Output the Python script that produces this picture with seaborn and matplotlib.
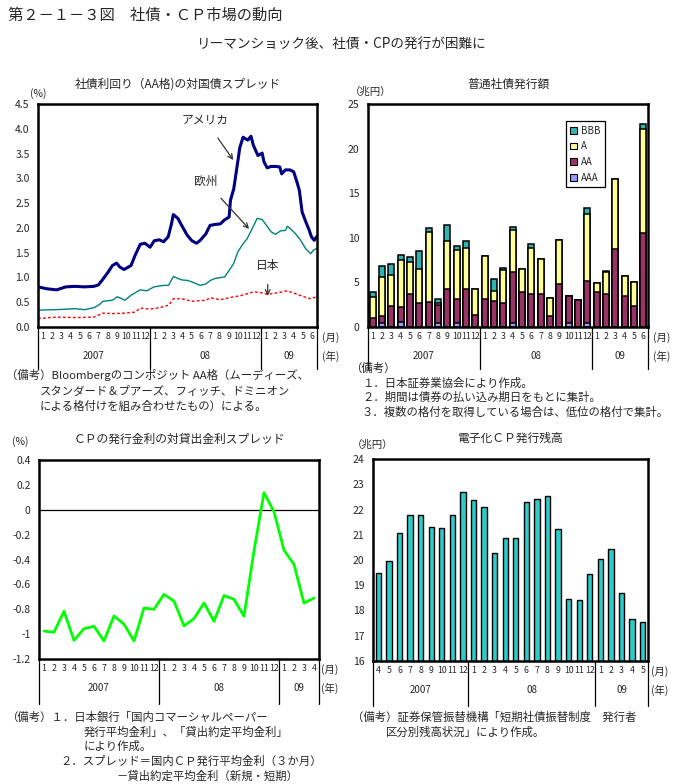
import matplotlib
matplotlib.use("Agg")
import matplotlib.pyplot as plt
import matplotlib.transforms as mtrans
from matplotlib.patches import Patch
import numpy as np
import pandas as pd
import seaborn as sns

# ---------------- data ----------------
# Panel 1: corporate bond (AA) spread over government bonds, % (x = months since Jan 2007)
us_t = [0.0, 1.0, 2.0, 3.0, 4.0, 5.0, 6.0, 6.5, 7.0, 7.55, 8.0, 8.45, 8.8, 9.25, 10.0, 10.45,
        11.0, 11.5, 12.05, 12.5, 13.05, 13.5, 14.0, 14.35, 14.55, 15.05, 15.45, 16.05, 16.55,
        17.05, 17.45, 18.05, 18.5, 19.05, 19.6, 20.05, 20.55, 20.7, 21.05, 21.5, 21.7, 22.05,
        22.55, 22.9, 23.15, 23.65, 24.1, 24.3, 24.65, 25.05, 25.55, 26.0, 26.2, 26.6, 27.1,
        27.5, 27.9, 28.1, 28.4, 28.8, 29.15, 29.4, 29.7, 30.0]
us_v = [0.81, 0.77, 0.75, 0.81, 0.82, 0.81, 0.82, 0.85, 0.97, 1.11, 1.24, 1.29, 1.21, 1.16, 1.24, 1.45,
        1.67, 1.69, 1.61, 1.74, 1.76, 1.72, 1.82, 2.08, 2.27, 2.19, 2.05, 1.85, 1.74,
        1.69, 1.75, 1.88, 2.05, 2.07, 2.08, 2.16, 2.22, 2.56, 2.79, 3.36, 3.62, 3.83,
        3.77, 3.85, 3.67, 3.46, 3.51, 3.33, 3.21, 3.24, 3.24, 3.23, 3.09, 3.17, 3.17,
        3.13, 2.89, 2.76, 2.32, 2.12, 1.96, 1.82, 1.75, 1.83]
eu_t = [0.0, 1.98, 3.99, 5.0, 6.01, 6.51, 7.01, 7.99, 8.53, 9.35, 10.0, 11.0, 11.69, 12.48, 13.49,
        14.03, 14.57, 15.04, 15.47, 16.04, 16.55, 17.45, 18.06, 18.53, 19.06, 20.07, 20.54, 21.04,
        21.47, 22.05, 22.48, 23.02, 23.56, 24.1, 24.57, 25.07, 25.54, 26.08, 26.62, 26.8, 27.16,
        27.7, 28.24, 28.78, 29.32, 29.68, 29.96]
eu_v = [0.34, 0.35, 0.37, 0.35, 0.39, 0.44, 0.52, 0.54, 0.61, 0.54, 0.64, 0.75, 0.73, 0.81, 0.84,
        0.84, 1.02, 0.98, 0.95, 0.94, 0.91, 0.84, 0.87, 0.94, 0.98, 1.01, 1.14, 1.28,
        1.51, 1.68, 1.78, 1.98, 2.19, 2.17, 2.05, 1.92, 1.87, 1.94, 1.95, 2.03, 1.98,
        1.88, 1.75, 1.58, 1.48, 1.56, 1.58]
jp_t = [0.0, 1.98, 3.99, 6.01, 7.01, 7.99, 9.35, 10.43, 11.0, 12.05, 13.06, 14.03, 14.57, 15.47,
        16.55, 18.06, 18.53, 19.6, 21.04, 21.76, 22.48, 23.2, 24.1, 24.64, 25.72, 26.8, 27.7,
        28.6, 29.32, 29.96]
jp_v = [0.17, 0.20, 0.19, 0.20, 0.28, 0.27, 0.28, 0.30, 0.38, 0.36, 0.39, 0.44, 0.57, 0.57,
        0.52, 0.54, 0.59, 0.55, 0.61, 0.63, 0.67, 0.71, 0.69, 0.66, 0.69, 0.73, 0.67,
        0.61, 0.57, 0.61]
p1_months = [str(m) for m in range(1, 13)] * 2 + [str(m) for m in range(1, 7)]

# Panel 2: straight bond issuance by rating, trillion yen (2007/1 - 2009/6)
bond_months = [str(m) for m in range(1, 13)] * 2 + [str(m) for m in range(1, 7)]
bond_aaa = [0.0, 0.45, 0.0, 0.55, 0.0, 0.0, 0.0, 0.45, 0.0, 0.45, 0.0, 0.0,
            0.0, 0.0, 0.0, 0.45, 0.0, 0.0, 0.0, 0.0, 0.0, 0.45, 0.0, 0.5,
            0.0, 0.0, 0.0, 0.0, 0.0, 0.0]
bond_aa = [1.0, 0.8, 2.4, 1.65, 3.75, 2.7, 2.85, 2.0, 4.25, 2.65, 4.25, 1.3,
           3.1, 2.9, 2.7, 5.75, 3.95, 3.7, 3.75, 1.25, 4.8, 3.0, 3.05, 4.65,
           3.9, 3.7, 8.8, 3.45, 2.4, 10.5]
bond_a = [2.4, 4.35, 3.4, 5.3, 3.5, 3.8, 7.85, 0.25, 5.35, 5.55, 4.65, 3.0,
          4.9, 1.1, 3.7, 4.7, 2.55, 5.15, 3.85, 2.0, 4.9, 0.0, 0.0, 7.5,
          1.05, 2.45, 7.75, 2.3, 2.65, 11.65]
bond_bbb = [0.5, 1.2, 1.25, 0.55, 0.55, 2.0, 0.35, 0.4, 1.85, 0.45, 0.75, 0.0,
            0.0, 1.4, 0.25, 0.3, 0.0, 0.45, 0.0, 0.0, 0.1, 0.0, 0.0, 0.7,
            0.0, 0.1, 0.0, 0.0, 0.0, 0.65]

# Panel 3: CP issuance rate minus loan rate spread, % (2007/1 - 2009/4)
cp_months = [str(m) for m in range(1, 13)] * 2 + [str(m) for m in range(1, 5)]
cp_spread = [-0.975, -0.985, -0.816, -1.05, -0.956, -0.937, -1.055, -0.854, -0.92, -1.055, -0.79, -0.80,
             -0.68, -0.735, -0.934, -0.875, -0.75, -0.897, -0.69, -0.72, -0.856, -0.33, 0.137, -0.016,
             -0.325, -0.44, -0.75, -0.71]

# Panel 4: electronic CP outstanding, trillion yen (2007/4 - 2009/5)
ecp_months = [str(m) for m in range(4, 13)] + [str(m) for m in range(1, 13)] + [str(m) for m in range(1, 6)]
ecp_vals = [19.49, 19.98, 21.05, 21.77, 21.77, 21.29, 21.25, 21.77, 22.68,
            22.36, 22.08, 20.26, 20.87, 20.89, 22.28, 22.40, 22.52, 21.21, 18.46, 18.43, 19.43,
            20.02, 20.42, 18.71, 17.68, 17.53]

# ---------------- style ----------------
sns.set_theme(style="white")
plt.rcParams['font.family'] = ['Noto Sans CJK JP', 'DejaVu Sans']
plt.rcParams['axes.unicode_minus'] = False

W, H = 684, 784
fig = plt.figure(figsize=(W / 100, H / 100), dpi=100)


def rect(l, t, r, b):
    return [l / W, 1 - b / H, (r - l) / W, (b - t) / H]


def ftext(x, y, s, **kw):
    kw.setdefault('fontsize', 8.2)
    kw.setdefault('va', 'center')
    fig.text(x / W, 1 - y / H, s, **kw)


def frame(ax):
    for sp in ax.spines.values():
        sp.set_visible(True)
        sp.set_color('black')
        sp.set_linewidth(1.8)
    ax.tick_params(axis='y', length=0, labelsize=7.5, pad=6)
    ax.grid(False)
    ax.set_xlabel('')
    ax.set_ylabel('')


def month_axis(ax, pos, labels, bounds, years, sep_px=42, mon_pad=3.5, yr_px=29, unit_dx=5):
    ax.set_xticks(pos, labels=labels)
    ax.tick_params(axis='x', length=0, labelsize=6.3, pad=mon_pad)
    tr = ax.get_xaxis_transform()
    bbox_h = ax.get_position().height * H
    for b in bounds:
        ax.plot([b, b], [0, -sep_px / bbox_h], transform=tr, color='black', lw=0.9, clip_on=False)
    yr_tr = mtrans.offset_copy(tr, fig=fig, x=0, y=-yr_px, units='dots')
    for x, s in years:
        ax.text(x, 0, s, transform=yr_tr, ha='center', va='center', fontsize=7)
    m_tr = mtrans.offset_copy(ax.transAxes, fig=fig, x=unit_dx, y=-11, units='dots')
    ax.text(1, 0, '(月)', transform=m_tr, ha='left', va='center', fontsize=7.5)
    y_tr = mtrans.offset_copy(ax.transAxes, fig=fig, x=unit_dx, y=-yr_px, units='dots')
    ax.text(1, 0, '(年)', transform=y_tr, ha='left', va='center', fontsize=7.5)


# ---------------- header ----------------
ftext(8, 15, '第２－１－３図　社債・ＣＰ市場の動向', fontsize=11)
ftext(342, 45, 'リーマンショック後、社債・CPの発行が困難に', fontsize=9.8, ha='center')

# ---------------- panel 1 ----------------
ax1 = fig.add_axes(rect(38, 104, 317, 327))
sns.lineplot(x=jp_t, y=jp_v, ax=ax1, color='#FF0000', lw=1.0, linestyle=(0, (2.0, 1.6)), sort=False, errorbar=None)
sns.lineplot(x=eu_t, y=eu_v, ax=ax1, color='#008080', lw=1.0, sort=False, errorbar=None)
sns.lineplot(x=us_t, y=us_v, ax=ax1, color='#000080', lw=2.2, sort=False, errorbar=None)
ax1.set_xlim(0, 30)
ax1.set_ylim(0, 4.5)
p1_ticks = [0.0, 0.5, 1.0, 1.5, 2.0, 2.5, 3.0, 3.5, 4.0, 4.5]
ax1.set_yticks(p1_ticks, labels=[f'{v:.1f}' for v in p1_ticks])
frame(ax1)
month_axis(ax1, np.arange(30) + 0.5, p1_months, [0, 12, 24, 30],
           [(6, '2007'), (18, '08'), (27, '09')])
ax1.set_title('社債利回り（AA格)の対国債スプレッド', fontsize=8.5, pad=12)
ftext(30, 94, '(%)', fontsize=7.5)
ax1.annotate('アメリカ', xy=(21.0, 3.37), xytext=(18.0, 4.17), fontsize=8.5, ha='center', va='center',
             arrowprops=dict(arrowstyle='->', color='#333333', lw=0.9, shrinkA=7, shrinkB=0))
ax1.annotate('欧州', xy=(22.7, 1.98), xytext=(18.0, 2.94), fontsize=8.5, ha='center', va='center',
             arrowprops=dict(arrowstyle='->', color='#333333', lw=0.9, shrinkA=7, shrinkB=0))
ax1.annotate('日本', xy=(24.7, 0.63), xytext=(24.7, 1.25), fontsize=8.5, ha='center', va='center',
             arrowprops=dict(arrowstyle='->', color='#333333', lw=0.9, shrinkA=7, shrinkB=0))

# ---------------- panel 2 ----------------
ax2 = fig.add_axes(rect(368, 104, 648, 327))
keys = [f'k{i}' for i in range(len(bond_months))]
bdf = pd.DataFrame({'key': keys, 'AAA': bond_aaa, 'AA': bond_aa, 'A': bond_a, 'BBB': bond_bbb})
bdf['l4'] = bdf['AAA'] + bdf['AA'] + bdf['A'] + bdf['BBB']
bdf['l3'] = bdf['AAA'] + bdf['AA'] + bdf['A']
bdf['l2'] = bdf['AAA'] + bdf['AA']
bdf['l1'] = bdf['AAA']
cols = {'BBB': '#33B2B2', 'A': '#FFFF99', 'AA': '#993366', 'AAA': '#9999FF'}
for lay, nm in [('l4', 'BBB'), ('l3', 'A'), ('l2', 'AA'), ('l1', 'AAA')]:
    sns.barplot(data=bdf, x='key', y=lay, ax=ax2, color=cols[nm], saturation=1, width=0.62,
                edgecolor='black', linewidth=1.1, errorbar=None)
ax2.set_xlim(-0.5, len(keys) - 0.5)
ax2.set_ylim(0, 25)
ax2.set_yticks(range(0, 26, 5))
frame(ax2)
month_axis(ax2, np.arange(len(keys)), bond_months, [-0.5, 11.5, 23.5, 29.5],
           [(5.5, '2007'), (17.5, '08'), (26.5, '09')], unit_dx=5)
ax2.set_title('普通社債発行額', fontsize=8.5, pad=12)
ftext(350, 92, '（兆円）', fontsize=7.5)
handles = [Patch(facecolor=cols[n], edgecolor='black', linewidth=0.8) for n in ['BBB', 'A', 'AA', 'AAA']]
leg = ax2.legend(handles, ['BBB', 'A', 'AA', 'AAA'], loc='upper left', bbox_to_anchor=(0.69, 0.945),
                 fontsize=7, handlelength=0.7, handleheight=0.7, labelspacing=0.6, handletextpad=0.4,
                 borderpad=0.45, fancybox=False, framealpha=1, edgecolor='black')
leg.get_frame().set_linewidth(0.9)

# ---------------- panel 3 ----------------
ax3 = fig.add_axes(rect(39, 460, 319, 659))
cdf = pd.DataFrame({'pos': np.arange(len(cp_spread)) + 0.5, 'v': cp_spread})
ax3.axhline(0, color='black', lw=0.9)
sns.lineplot(data=cdf, x='pos', y='v', ax=ax3, color='#00FF00', lw=2.0, errorbar=None)
ax3.set_xlim(0, 28)
ax3.set_ylim(-1.2, 0.4)
yt = [0.4, 0.2, 0, -0.2, -0.4, -0.6, -0.8, -1, -1.2]
ax3.set_yticks(yt, labels=['0.4', '0.2', '0', '-0.2', '-0.4', '-0.6', '-0.8', '-1', '-1.2'])
frame(ax3)
month_axis(ax3, np.arange(28) + 0.5, cp_months, [0, 12, 24, 28],
           [(6, '2007'), (18, '08'), (26, '09')], sep_px=45, yr_px=29, unit_dx=2)
ax3.set_title('ＣＰの発行金利の対貸出金利スプレッド', fontsize=8.5, pad=12)
ftext(12, 442, '(%)', fontsize=7.5)

# ---------------- panel 4 ----------------
ax4 = fig.add_axes(rect(373, 459, 648, 661))
ekeys = [f'e{i}' for i in range(len(ecp_vals))]
edf = pd.DataFrame({'key': ekeys, 'v': ecp_vals})
sns.barplot(data=edf, x='key', y='v', ax=ax4, color='#2ECBCB', saturation=1, width=0.5,
            edgecolor='black', linewidth=1.0, errorbar=None)
ax4.set_xlim(-0.5, len(ekeys) - 0.5)
ax4.set_ylim(16, 24)
ax4.set_yticks(range(16, 25))
frame(ax4)
month_axis(ax4, np.arange(len(ekeys)), ecp_months, [-0.5, 8.5, 20.5, 25.5],
           [(4, '2007'), (14.5, '08'), (23, '09')], sep_px=45, unit_dx=3)
ax4.set_title('電子化ＣＰ発行残高', fontsize=8.5, pad=12)
ftext(352, 445, '（兆円）', fontsize=7.5)

# ---------------- notes ----------------
ftext(6, 375, '（備考）Bloombergのコンポジット AA格（ムーディーズ、')
ftext(40, 391, 'スタンダード＆プアーズ、フィッチ、ドミニオン')
ftext(40, 406, 'による格付けを組み合わせたもの）による。')

ftext(350, 368, '（備考）')
ftext(362, 383, '１．日本証券業協会により作成。')
ftext(362, 397, '２．期間は債券の払い込み期日をもとに集計。')
ftext(362, 412, '３．複数の格付を取得している場合は、低位の格付で集計。')

ftext(6, 717, '（備考）１．日本銀行「国内コマーシャルペーパー')
ftext(84, 732, '発行平均金利」、「貸出約定平均金利」')
ftext(84, 746, 'により作成。')
ftext(60, 761, '２．スプレッド＝国内ＣＰ発行平均金利（３か月）')
ftext(116, 776, '－貸出約定平均金利（新規・短期）')

ftext(352, 717, '（備考）証券保管振替機構「短期社債振替制度　発行者')
ftext(386, 732, '区分別残高状況」により作成。')

fig.savefig('out.png', dpi=100, facecolor='white')
